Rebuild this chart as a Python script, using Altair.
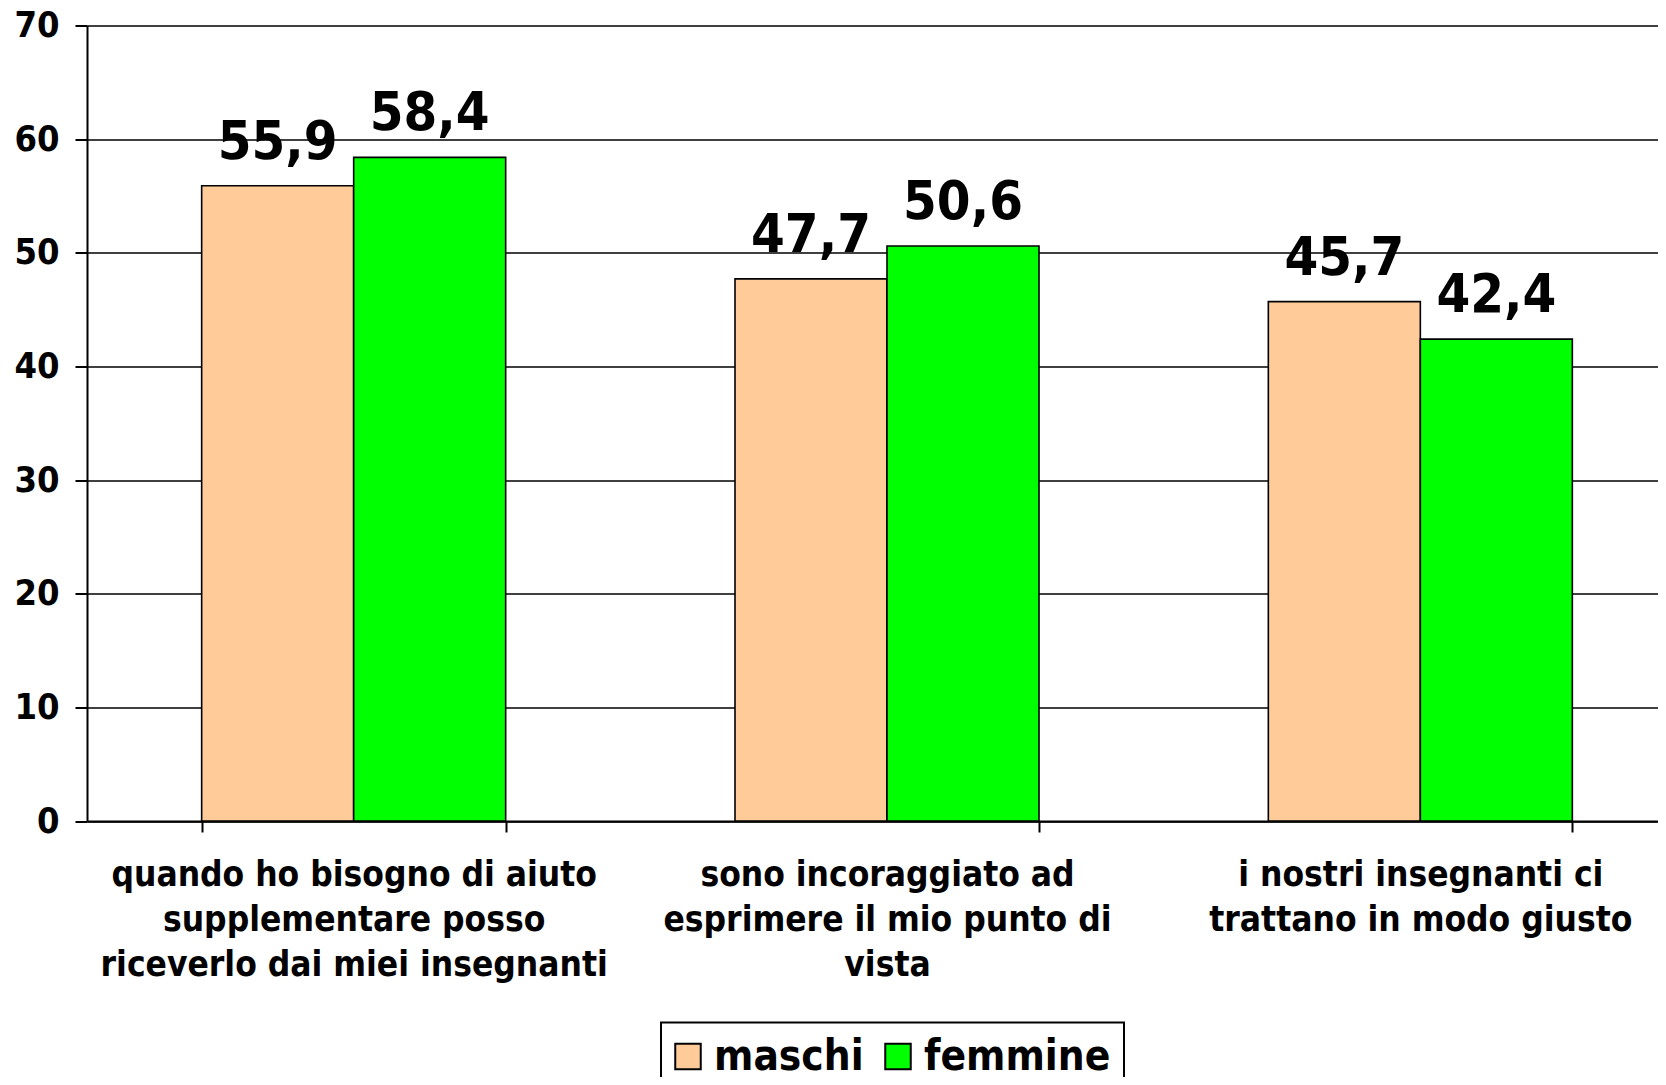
import altair as alt
import pandas as pd

categories = [
    "quando ho bisogno di aiuto\nsupplementare posso\nriceverlo dai miei insegnanti",
    "sono incoraggiato ad\nesprimere il mio punto di\nvista",
    "i nostri insegnanti ci\ntrattano in modo giusto",
]
series = ["maschi", "femmine"]
maschi = [55.9, 47.7, 45.7]
femmine = [58.4, 50.6, 42.4]
colors = ["#FFCC99", "#00FF00"]
y_ticks = [0, 10, 20, 30, 40, 50, 60, 70]

rows = []
for i, c in enumerate(categories):
    for s, vals in zip(series, [maschi, femmine]):
        v = vals[i]
        rows.append({"cat": c, "serie": s, "val": v,
                     "label": f"{v:.1f}".replace(".", ",")})
df = pd.DataFrame(rows)

FONT = "DejaVu Sans Condensed"

base = alt.Chart(df).encode(
    x=alt.X(
        "cat:N",
        sort=categories,
        scale=alt.Scale(range=[0, 1600], paddingInner=0.43, paddingOuter=0.215),
        axis=alt.Axis(
            title=None,
            labelAngle=0,
            tickBand="extent",
            labelExpr="split(datum.label, '\\n')",
            labelFont=FONT,
            labelFontWeight="bold",
            labelFontSize=35,
            labelLineHeight=45,
            labelColor="black",
            labelLimit=0,
            labelOverlap=False,
            labelBaseline="top",
            labelPadding=25,
            domainColor="black",
            domainWidth=2,
            tickColor="black",
            tickWidth=2,
            tickSize=11,
            grid=False,
        ),
    ),
    xOffset=alt.XOffset("serie:N", sort=series),
    y=alt.Y(
        "val:Q",
        scale=alt.Scale(domain=[0, 70], nice=False),
        axis=alt.Axis(
            title=None,
            values=y_ticks,
            labelFont=FONT,
            labelFontWeight="bold",
            labelFontSize=36,
            labelColor="black",
            labelPadding=16,
            domainColor="black",
            domainWidth=2,
            tickColor="black",
            tickWidth=2,
            tickSize=12,
            gridColor="black",
            gridWidth=1.6,
            gridOpacity=1,
        ),
    ),
)

bars = base.mark_bar(stroke="black", strokeWidth=1.6).encode(
    color=alt.Color(
        "serie:N",
        sort=series,
        scale=alt.Scale(domain=series, range=colors),
        legend=alt.Legend(
            title=None,
            orient="none",
            legendX=574,
            legendY=997,
            direction="horizontal",
            symbolType="square",
            symbolSize=650,
            symbolStrokeColor="black",
            symbolStrokeWidth=2,
            symbolOffset=-7,
            labelFont=FONT,
            labelFontWeight="bold",
            labelFontSize=42,
            labelColor="black",
            labelOffset=5,
            labelLimit=0,
            columnPadding=17,
            padding=13,
            strokeColor="black",
            fillColor="white",
        ),
    )
)

text = base.mark_text(
    dy=-27, baseline="alphabetic", font=FONT, fontWeight="bold",
    fontSize=54, color="black"
).encode(text="label:N")

chart = (bars + text).properties(
    width=1571,
    height=795.5,
    autosize=alt.AutoSizeParams(type="none"),
    padding={"left": 79, "top": 17.5, "right": 0, "bottom": 256},
    background="white",
).configure_view(stroke=None).configure_legend(strokeWidth=2)

chart.save("out.html", embed_options={"renderer": "svg", "actions": False})
